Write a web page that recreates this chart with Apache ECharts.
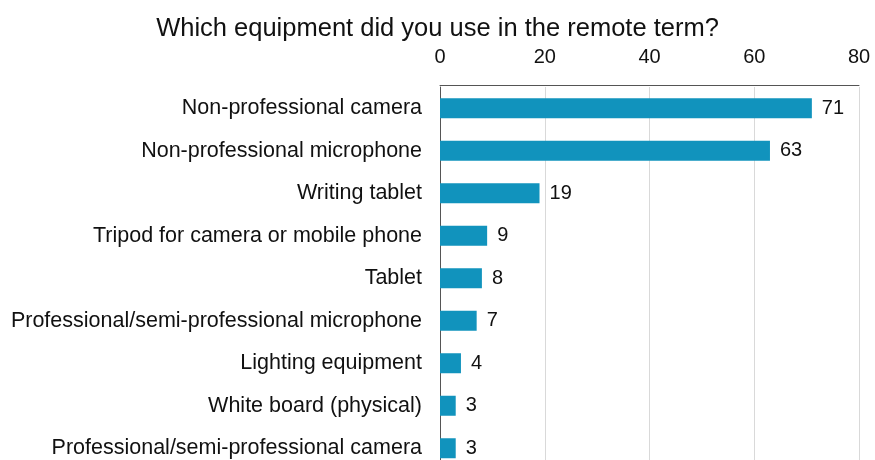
<!DOCTYPE html>
<html>
<head>
<meta charset="utf-8">
<script src="https://cdn.jsdelivr.net/npm/echarts@6/dist/echarts.min.js"></script>
<style>
  html, body { margin: 0; padding: 0; background: #fff; overflow: hidden; }
  /* the last row runs slightly past the bottom edge of the window */
  #chart { width: 875px; height: 470px; }
</style>
</head>
<body>
<div id="chart"></div>
<script>
// Survey answers: equipment used during the remote term
const categories = [
  'Non-professional camera',
  'Non-professional microphone',
  'Writing tablet',
  'Tripod for camera or mobile phone',
  'Tablet',
  'Professional/semi-professional microphone',
  'Lighting equipment',
  'White board (physical)',
  'Professional/semi-professional camera'
];
const counts = [71, 63, 19, 9, 8, 7, 4, 3, 3];
const xTicks = [0, 20, 40, 60, 80];

const font = '"Liberation Sans", Arial, sans-serif';
const chart = echarts.init(document.getElementById('chart'));
chart.setOption({
  animation: false,
  title: {
    text: 'Which equipment did you use in the remote term?',
    left: 'center',
    top: 11,
    textStyle: { fontFamily: font, fontSize: 25.5, fontWeight: 'normal', color: '#111' }
  },
  grid: {
    left: 440, right: 16, top: 87, bottom: 0.5
  },
  xAxis: {
    type: 'value',
    position: 'top',
    offset: 2,
    min: xTicks[0],
    max: xTicks[xTicks.length - 1],
    interval: 20,
    axisLine: { show: true, lineStyle: { color: '#555', width: 1 } },
    axisTick: { show: false },
    splitLine: { show: true, lineStyle: { color: '#d9d9d9', width: 1 } },
    axisLabel: { fontFamily: font, fontSize: 20, color: '#111', margin: 18 }
  },
  yAxis: {
    type: 'category',
    inverse: true,
    data: categories,
    axisLine: { show: true, lineStyle: { color: '#555', width: 1 } },
    axisTick: { show: false },
    axisLabel: { fontFamily: font, fontSize: 21.5, color: '#111', margin: 18 }
  },
  series: [{
    type: 'bar',
    data: counts,
    barWidth: 20,
    itemStyle: { color: '#1193bd' },
    label: {
      show: true,
      position: 'right',
      distance: 10,
      fontFamily: font,
      fontSize: 20,
      color: '#111'
    }
  }]
});
</script>
</body>
</html>
